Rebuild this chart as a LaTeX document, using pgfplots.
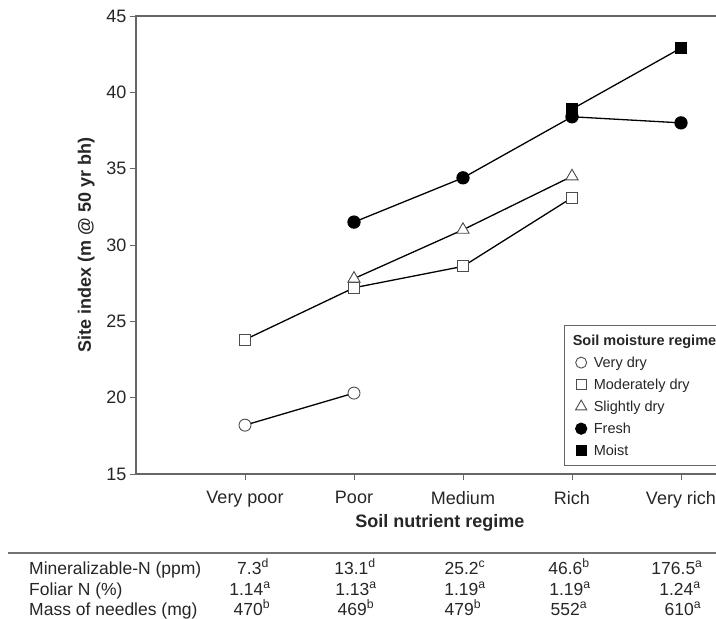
\documentclass[border=0pt]{standalone}
\usepackage{pgfplots}
\pgfplotsset{compat=1.18}
\usepackage{fontspec}
\setmainfont{Liberation Sans}

\newcommand{\lblfont}{\fontsize{18}{20}\selectfont}

\begin{document}
\begin{tikzpicture}[x=1pt,y=-1pt]
\useasboundingbox (0,0) rectangle (716,619);
\begin{axis}[
  at={(136pt,-474pt)}, anchor=south west,
  scale only axis, width=599.5pt, height=458pt,
  xmin=0, xmax=5.5, ymin=15, ymax=45,
  xtick={1,2,3,4,5},
  xticklabels={Very poor,Poor,Medium,Rich,Very rich},
  ytick={15,20,...,45},
  tick pos=left, tick align=outside, major tick length=6pt,
  axis line style={draw=black!60, line width=1.2pt},
  every tick/.style={draw=black!60, line width=1pt},
  tick label style={font=\lblfont, text=black!85},
  xticklabel style={yshift=-8pt},
  /pgf/number format/assume math mode=true,
  xlabel={Soil nutrient regime},
  ylabel={Site index (m @ 50 yr bh)},
  xlabel style={font=\bfseries\lblfont, text=black!85, at={(axis description cs:0.507,-0.107)}, anchor=center},
  ylabel style={font=\bfseries\lblfont, text=black!85, at={(axis description cs:-0.083,0.5)}, anchor=center},
  legend style={at={(0.714,0.3253)}, anchor=north west, draw=black!60, line width=1.2pt,
    font=\fontsize{14.5}{17}\selectfont, text=black!85, row sep=6pt, inner xsep=8pt, inner ysep=7pt,
    cells={anchor=west},
    /tikz/every odd column/.append style={column sep=5pt}},
  legend cell align=left,
]
\addplot[black, line width=1.3pt, mark=*, mark size=6pt,
  mark options={fill=white, draw=black!70, line width=0.9pt}, forget plot]
  coordinates {(1,18.2) (2,20.3)};
\addplot[black, line width=1.3pt, mark=square*, mark size=5.5pt,
  mark options={fill=white, draw=black!70, line width=0.9pt}, forget plot]
  coordinates {(1,23.8) (2,27.2) (3,28.6) (4,33.1)};
\addplot[black, line width=1.3pt, mark=triangle*, mark size=7pt,
  mark options={fill=white, draw=black!70, line width=0.9pt}, forget plot]
  coordinates {(2,27.8) (3,31.0) (4,34.5)};
\addplot[black, line width=1.3pt, mark=*, mark size=6pt,
  mark options={fill=black, draw=black}, forget plot]
  coordinates {(2,31.5) (3,34.4) (4,38.4) (5,38.0)};
\addplot[black, line width=1.3pt, mark=square*, mark size=5.5pt,
  mark options={fill=black, draw=black}, forget plot]
  coordinates {(4,38.9) (5,42.9)};

\addlegendimage{empty legend}
\addlegendentry{\hspace*{-21pt}\textbf{Soil moisture regime}}
\addlegendimage{only marks, mark=*, mark size=5.5pt, mark options={fill=white, draw=black!70, line width=0.9pt}}
\addlegendentry{Very dry}
\addlegendimage{only marks, mark=square*, mark size=5pt, mark options={fill=white, draw=black!70, line width=0.9pt}}
\addlegendentry{Moderately dry}
\addlegendimage{only marks, mark=triangle*, mark size=6.5pt, mark options={fill=white, draw=black!70, line width=0.9pt}}
\addlegendentry{Slightly dry}
\addlegendimage{only marks, mark=*, mark size=5.5pt, mark options={fill=black, draw=black}}
\addlegendentry{Fresh}
\addlegendimage{only marks, mark=square*, mark size=5pt, mark options={fill=black, draw=black}}
\addlegendentry{Moist}
\end{axis}

% table under the chart
\draw[black!55, line width=2pt] (8,553) -- (716,553);
\begin{scope}[every node/.style={font=\fontsize{17.5}{19}\selectfont, text=black!85, inner sep=0pt}]
\node[anchor=base west] at (29,574) {Mineralizable-N (ppm)};
\node[anchor=base west] at (29,595) {Foliar N (\%)};
\node[anchor=base west] at (29,615) {Mass of needles (mg)};
\node[anchor=base] at (253,574) {7.3\textsuperscript{d}};
\node[anchor=base] at (355,574) {13.1\textsuperscript{d}};
\node[anchor=base] at (465,574) {25.2\textsuperscript{c}};
\node[anchor=base] at (569,574) {46.6\textsuperscript{b}};
\node[anchor=base] at (677,574) {176.5\textsuperscript{a}};
\node[anchor=base] at (250,595) {1.14\textsuperscript{a}};
\node[anchor=base] at (356,595) {1.13\textsuperscript{a}};
\node[anchor=base] at (465,595) {1.19\textsuperscript{a}};
\node[anchor=base] at (570,595) {1.19\textsuperscript{a}};
\node[anchor=base] at (680,595) {1.24\textsuperscript{a}};
\node[anchor=base] at (252,615) {470\textsuperscript{b}};
\node[anchor=base] at (356,615) {469\textsuperscript{b}};
\node[anchor=base] at (463,615) {479\textsuperscript{b}};
\node[anchor=base] at (569,615) {552\textsuperscript{a}};
\node[anchor=base] at (683,615) {610\textsuperscript{a}};
\end{scope}
\end{tikzpicture}
\end{document}
